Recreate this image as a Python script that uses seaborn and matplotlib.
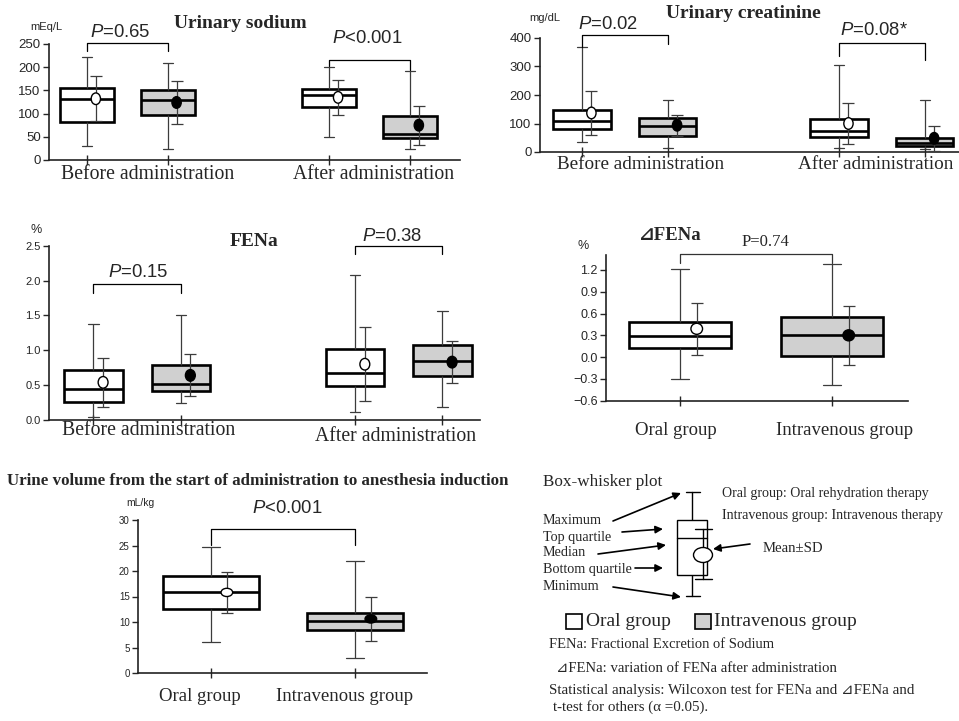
#!/usr/bin/env python3
"""Urine indices, oral vs intravenous rehydration: box-whisker panels."""

import matplotlib
matplotlib.use("Agg")

import matplotlib.pyplot as plt
import numpy as np
import pandas as pd
import seaborn as sns
from matplotlib.patches import Ellipse, Rectangle
from matplotlib.path import Path
from matplotlib.transforms import Affine2D

# ---- data (five-number summaries + mean/SD) -------------------------------
# four-box panels: Oral-before, IV-before, Oral-after, IV-after
ARMS4 = ["Oral", "IV", "Oral", "IV"]
ARMS2 = ["Oral", "IV"]
PERIODS = ["Before administration", "After administration"]
GROUPS = ["Oral group", "Intravenous group"]

NA_MIN = [30, 24, 50, 24]
NA_Q1 = [82, 96, 114, 47]
NA_MED = [132, 130, 141, 55]
NA_Q3 = [156, 150, 153, 94]
NA_MAX = [223, 209, 200, 191]
NA_MEAN = [132, 124, 135, 75]
NA_SD = [48, 46, 37, 42]
NA_TICKS = [0, 50, 100, 150, 200, 250]
NA_P = ["=0.65", "<0.001"]

CR_MIN = [34, 14, 14, 10]
CR_Q1 = [81, 57, 53, 20]
CR_MED = [110, 92, 72, 32]
CR_Q3 = [148, 119, 116, 48]
CR_MAX = [367, 184, 304, 184]
CR_MEAN = [137, 94, 100, 48]
CR_SD = [78, 37, 72, 43]
CR_TICKS = [0, 100, 200, 300, 400]
CR_P = ["=0.02", "=0.08*"]

FE_MIN = [0.05, 0.24, 0.11, 0.18]
FE_Q1 = [0.26, 0.42, 0.49, 0.63]
FE_MED = [0.45, 0.52, 0.68, 0.84]
FE_Q3 = [0.71, 0.79, 1.02, 1.07]
FE_MAX = [1.37, 1.50, 2.08, 1.57]
FE_MEAN = [0.54, 0.64, 0.80, 0.83]
FE_SD = [0.35, 0.30, 0.53, 0.30]
FE_TICKS = [0.0, 0.5, 1.0, 1.5, 2.0, 2.5]
FE_P = ["=0.15", "=0.38"]

DFE_MIN = [-0.30, -0.38]
DFE_Q1 = [0.13, 0.02]
DFE_MED = [0.29, 0.30]
DFE_Q3 = [0.48, 0.55]
DFE_MAX = [1.22, 1.28]
DFE_MEAN = [0.39, 0.30]
DFE_SD = [0.36, 0.41]
DFE_TICKS = [-0.6, -0.3, 0.0, 0.3, 0.6, 0.9, 1.2]
DFE_P = "P=0.74"

UV_MIN = [6.0, 2.9]
UV_Q1 = [12.6, 8.5]
UV_MED = [15.8, 10.1]
UV_Q3 = [19.0, 11.8]
UV_MAX = [24.8, 22.0]
UV_MEAN = [15.8, 10.6]
UV_SD = [4.1, 4.4]
UV_TICKS = [0, 5, 10, 15, 20, 25, 30]
UV_P = "<0.001"

# ---- styling --------------------------------------------------------------
W, H = 959, 721
POS4 = [0, 1, 3, 4]
POS2 = [0, 1]
FILL = {"Oral": "white", "IV": "#d0d0d0"}
MARK = {"Oral": "white", "IV": "black"}
MEAN_SHIFT = 0.11
SERIF = ["Liberation Serif", "DejaVu Serif", "DejaVu Sans"]
SANS = ["Liberation Sans", "DejaVu Sans"]
WHISK = "#3c3c3c"


def px_axes(fig, x0, x1, y0, y1):
    return fig.add_axes([x0 / W, 1 - y1 / H, (x1 - x0) / W, (y1 - y0) / H])


def draw_boxes(ax, pos, arms, mins, q1, med, q3, maxs, means, sds, aspect):
    rows = []
    for p, a, *vals in zip(pos, arms, mins, q1, med, q3, maxs):
        rows += [{"pos": p, "arm": a, "value": v} for v in vals]
    df = pd.DataFrame(rows)
    sns.boxplot(
        data=df, x="pos", y="value", hue="arm", native_scale=True, orient="x",
        dodge=False, width=0.67, whis=(0, 100), palette=FILL, saturation=1,
        linecolor="black", linewidth=1.9, showfliers=False, legend=False,
        capwidths=0.12,
        whiskerprops=dict(color=WHISK, linewidth=0.9),
        capprops=dict(color=WHISK, linewidth=0.9),
        ax=ax,
    )
    mx = np.asarray(pos, dtype=float) + MEAN_SHIFT
    ax.errorbar(mx, means, yerr=sds, fmt="none", ecolor=WHISK, elinewidth=0.9,
                capsize=4, capthick=0.9, zorder=4)
    mk = Path.unit_circle().transformed(Affine2D().scale(*aspect))
    ax.scatter(mx, means, marker=mk, s=70, c=[MARK[a] for a in arms],
               edgecolors="black", linewidths=1, zorder=5)


def style_axes(ax, xlim, ylim, yticks, ysize, fmt, xticks):
    ax.set_xlim(xlim)
    ax.set_ylim(ylim)
    ax.set_xlabel("")
    ax.set_ylabel("")
    for s in ["top", "right"]:
        ax.spines[s].set_visible(False)
    for s in ["left", "bottom"]:
        ax.spines[s].set_linewidth(1.2)
        ax.spines[s].set_color("#222222")
    ax.set_yticks(yticks, [fmt.format(t).replace("-", "\u2212") for t in yticks])
    for lab in ax.get_yticklabels():
        lab.set_family(SANS)
        lab.set_fontsize(ysize)
    ax.set_xticks(xticks, [""] * len(xticks))
    ax.tick_params(axis="y", direction="out", length=4, width=1, pad=2)
    ax.tick_params(axis="x", direction="inout", length=7, width=1)
    ax.set_facecolor("none")


def cat_labels(ax, xs, labels, pads, size):
    for x, lab, pad in zip(xs, labels, pads):
        ax.annotate(lab, xy=(x, 0), xycoords=("data", "axes fraction"),
                    xytext=(0, -pad), textcoords="offset points",
                    ha="center", va="top", fontsize=size, family=SERIF)


def bracket(ax, x0, x1, top, leg0, leg1, color="black"):
    ax.plot([x0, x0, x1, x1], [leg0, top, top, leg1], color=color, lw=0.9,
            clip_on=False, zorder=6)


def p_text(ax, x, y, rel, size=13.3):
    ax.text(x, y, "$P$" + rel, ha="center", va="center", fontsize=size,
            family=SANS)


def main() -> None:
    sns.set_theme(style="ticks")
    plt.rcParams["font.family"] = SERIF
    plt.rcParams["mathtext.fontset"] = "custom"
    plt.rcParams["mathtext.it"] = "Liberation Sans:italic"
    plt.rcParams["mathtext.rm"] = "Liberation Sans"

    fig = plt.figure(figsize=(W / 100, H / 100), dpi=100)
    fig.patch.set_facecolor("white")

    # ---- Urinary sodium
    ax = px_axes(fig, 49, 460, 44, 160)
    draw_boxes(ax, POS4, ARMS4, NA_MIN, NA_Q1, NA_MED, NA_Q3, NA_MAX,
               NA_MEAN, NA_SD, (0.8, 1.0))
    style_axes(ax, (-0.47, 4.62), (0, 250), NA_TICKS, 9.5, "{:g}", POS4)
    cat_labels(ax, [0.75, 3.55], PERIODS, [3.5, 3.5], 14.2)
    bracket(ax, 0, 1, 252, 234, 234)
    bracket(ax, 3, 4, 215, 202, 193)
    p_text(ax, 0.41, 274, NA_P[0])
    p_text(ax, 3.47, 261, NA_P[1])

    # ---- Urinary creatinine
    ax = px_axes(fig, 540, 959, 38, 152)
    draw_boxes(ax, POS4, ARMS4, CR_MIN, CR_Q1, CR_MED, CR_Q3, CR_MAX,
               CR_MEAN, CR_SD, (0.8, 1.0))
    style_axes(ax, (-0.49, 4.40), (0, 400), CR_TICKS, 9.5, "{:g}", POS4)
    cat_labels(ax, [0.68, 3.43], PERIODS, [3, 3], 13.8)
    bracket(ax, 0, 1, 409, 367, 379)
    bracket(ax, 3, 4, 381, 336, 322)
    p_text(ax, 0.30, 446, CR_P[0])
    p_text(ax, 3.41, 428, CR_P[1])

    # ---- FENa
    ax = px_axes(fig, 49, 480, 245.7, 420)
    draw_boxes(ax, POS4, ARMS4, FE_MIN, FE_Q1, FE_MED, FE_Q3, FE_MAX,
               FE_MEAN, FE_SD, (0.85, 1.0))
    style_axes(ax, (-0.51, 4.43), (0, 2.5), FE_TICKS, 8, "{:.1f}", POS4)
    cat_labels(ax, [0.63, 3.46], PERIODS, [1, 5], 14.2)
    bracket(ax, 0, 1, 1.945, 1.826, 1.826)
    bracket(ax, 3, 4, 2.495, 2.376, 2.376)
    p_text(ax, 0.51, 2.11, FE_P[0])
    p_text(ax, 3.42, 2.63, FE_P[1])

    # ---- delta FENa
    ax = px_axes(fig, 606, 908, 255, 400.7)
    draw_boxes(ax, POS2, ARMS2, DFE_MIN, DFE_Q1, DFE_MED, DFE_Q3, DFE_MAX,
               DFE_MEAN, DFE_SD, (1.05, 1.0))
    style_axes(ax, (-0.487, 1.5), (-0.6, 1.406), DFE_TICKS, 9, "{:.1f}", POS2)
    cat_labels(ax, [-0.03, 1.08], GROUPS, [15, 15], 13.5)
    bracket(ax, 0, 1, 1.416, 1.29, 1.29, color="#333333")
    ax.text(0.56, 1.58, DFE_P, ha="center", va="center", fontsize=12,
            family=SERIF)

    # ---- Urine volume
    ax = px_axes(fig, 138, 427, 520, 673)
    draw_boxes(ax, POS2, ARMS2, UV_MIN, UV_Q1, UV_MED, UV_Q3, UV_MAX,
               UV_MEAN, UV_SD, (1.2, 0.85))
    style_axes(ax, (-0.507, 1.5), (0, 30), UV_TICKS, 7, "{:g}", POS2)
    cat_labels(ax, [-0.08, 0.93], GROUPS, [11, 11], 13.5)
    bracket(ax, 0, 1, 28.2, 25.1, 25.1)
    p_text(ax, 0.53, 32.2, UV_P)

    # ---- free text / legend (pixel overlay)
    ov = fig.add_axes([0, 0, 1, 1])
    ov.set_xlim(0, W)
    ov.set_ylim(H, 0)
    ov.axis("off")
    ov.patch.set_alpha(0)

    def t(x, y, s, size, ha="left", weight="normal", family=SERIF):
        ov.text(x, y, s, fontsize=size, ha=ha, va="center", weight=weight,
                family=family)

    t(240, 23, "Urinary sodium", 14, "center", "bold")
    t(46, 27, "mEq/L", 8, "center", family=SANS)
    t(743, 14, "Urinary creatinine", 14, "center", "bold")
    t(545, 18, "mg/dL", 8, "center", family=SANS)
    t(254, 242, "FENa", 14, "center", "bold")
    t(36, 230, "%", 9, "center", family=SANS)
    t(670, 235, "\u22bfFENa", 13.5, "center", "bold")
    t(583, 246, "%", 9, "center", family=SANS)
    t(7, 481, "Urine volume from the start of administration to anesthesia "
      "induction", 12.2, "left", "bold")
    t(140, 503, "mL/kg", 7.5, "center", family=SANS)

    # box-whisker key
    t(543, 482, "Box-whisker plot", 12.3)
    keys = ["Maximum", "Top quartile", "Median", "Bottom quartile", "Minimum"]
    key_y = [520, 537, 553, 570, 587]
    for k, y in zip(keys, key_y):
        t(543, y, k, 10.2)
    ov.plot([692, 692], [492, 596], color="black", lw=1)
    ov.plot([686, 700], [492, 492], color="black", lw=1)
    ov.plot([686, 700], [596, 596], color="black", lw=1)
    ov.add_patch(Rectangle((677, 520), 30, 55, facecolor="white",
                           edgecolor="black", lw=1, zorder=3))
    ov.plot([677, 707], [538, 538], color="black", lw=1, zorder=4)
    ov.plot([703, 703], [529, 579], color="black", lw=1, zorder=4)
    ov.plot([695, 712], [529, 529], color="black", lw=1, zorder=4)
    ov.plot([695, 712], [579, 579], color="black", lw=1, zorder=4)
    ov.add_patch(Ellipse((703, 555), 19, 15, facecolor="white",
                         edgecolor="black", lw=1, zorder=5))
    arrows = [((613, 521), (681, 493)), ((622, 532), (663, 529)),
              ((598, 554), (666, 545)), ((635, 568), (663, 568)),
              ((613, 587), (681, 597)), ((750, 544), (713, 549))]
    for (x0, y0), (x1, y1) in arrows:
        ov.annotate("", xy=(x1, y1), xytext=(x0, y0),
                    arrowprops=dict(arrowstyle="-|>", color="black", lw=1.2,
                                    mutation_scale=11, shrinkA=0, shrinkB=0))
    t(763, 548, "Mean\u00b1SD", 10.6)
    t(722, 493, "Oral group: Oral rehydration therapy", 10.1)
    t(722, 516, "Intravenous group: Intravenous therapy", 10.1)

    ov.add_patch(Rectangle((566, 614), 16, 15, facecolor="white",
                           edgecolor="black", lw=1.2))
    t(586, 621, GROUPS[0], 14)
    ov.add_patch(Rectangle((695, 614), 16, 15, facecolor=FILL["IV"],
                           edgecolor="black", lw=1.2))
    t(714, 621, GROUPS[1], 14)

    t(549, 645, "FENa: Fractional Excretion of Sodium", 10.5)
    t(556, 668, "\u22bfFENa: variation of FENa after administration", 10.6)
    t(549, 690, "Statistical analysis: Wilcoxon test for FENa and \u22bfFENa and",
      10.8)
    t(553, 707, "t-test for others (\u03b1 =0.05).", 10.8)

    fig.savefig("out.png", dpi=100, facecolor="white")
    plt.close(fig)


if __name__ == "__main__":
    main()
